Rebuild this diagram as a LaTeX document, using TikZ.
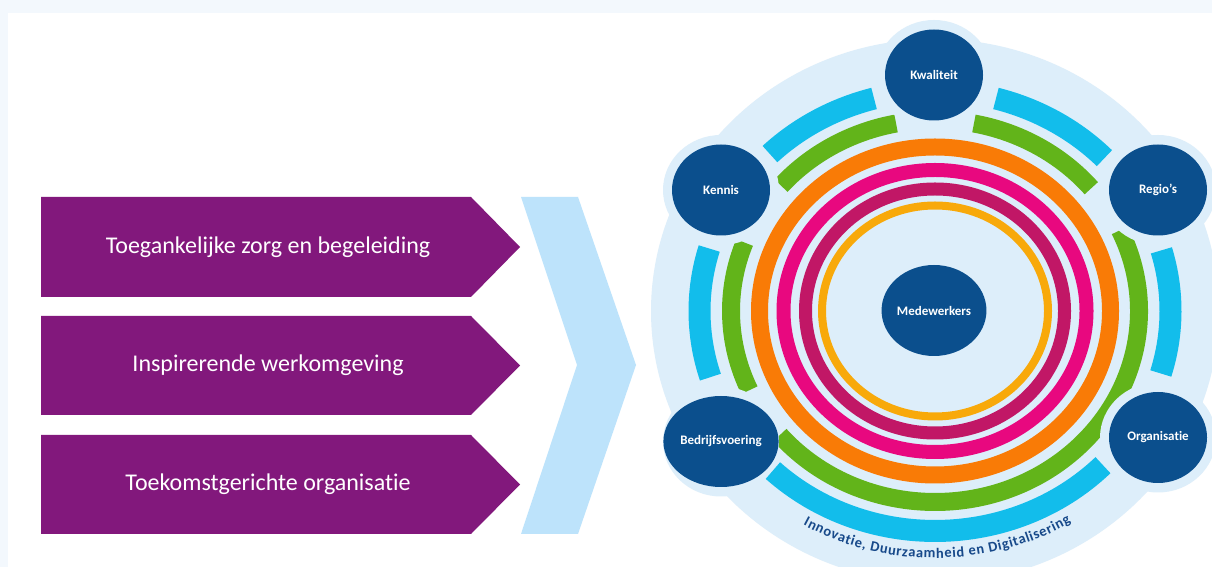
\documentclass[tikz,border=0pt]{standalone}
\usepackage{fontspec}
\setmainfont{Carlito}[Ligatures={NoCommon}]
\usepackage{xcolor}
\usepackage{tikz}
\usetikzlibrary{shapes.geometric, decorations.text}

\definecolor{framebg}{HTML}{F3F8FD}
\definecolor{purp}{HTML}{82187C}
\definecolor{chevblue}{HTML}{BDE3FB}
\definecolor{discblue}{HTML}{DDEEFA}
\definecolor{navy}{HTML}{0B4F8D}
\definecolor{textblue}{HTML}{17498A}
\definecolor{cyanring}{HTML}{12BDEB}
\definecolor{greenring}{HTML}{62B41A}
\definecolor{orangering}{HTML}{F97B06}
\definecolor{pinkring}{HTML}{E8087F}
\definecolor{plumring}{HTML}{C11766}
\definecolor{yellowring}{HTML}{F8A90A}

\tikzstyle{goal} = [fill=purp]
\tikzstyle{goaltext} = [text=white, font=\fontsize{24}{28}\selectfont]
\tikzstyle{theme} = [ellipse, fill=navy, text=white, inner sep=0pt, minimum width=98pt, minimum height=91pt, font=\bfseries\fontsize{13}{15}\selectfont]
\tikzstyle{halo} = [fill=discblue]
\newcommand{\arcfont}{\bfseries\fontsize{14.5}{15}\selectfont\color{textblue}}

\begin{document}
\begin{tikzpicture}[x=1pt, y=1pt]
    % Canvas
    \clip (0,0) rectangle (1212,567);
    \fill[white] (0,0) rectangle (1212,567);
    \fill[framebg] (0,554) rectangle (1212,567);
    \fill[framebg] (0,0) rectangle (8,567);

    % Goals
    \fill[goal] (41,370) -- (471,370) -- (520,320) -- (471,270) -- (41,270) -- cycle;
    \node[goaltext] (zorg) at (268,320) {Toegankelijke zorg en begeleiding};
    \fill[goal] (41,251) -- (471,251) -- (520,201.5) -- (471,152) -- (41,152) -- cycle;
    \node[goaltext] (werk) at (268,201.5) {Inspirerende werkomgeving};
    \fill[goal] (41,132) -- (471,132) -- (520,82.5) -- (471,33) -- (41,33) -- cycle;
    \node[goaltext] (toekomst) at (268,82.5) {Toekomstgerichte organisatie};

    % Chevron
    \fill[chevblue] (521,370) -- (578,370) -- (636,202) -- (578,33) -- (521,33) -- (577,202) -- cycle;

    % Node positions
    \coordinate (kw) at (934,492);
    \coordinate (ke) at (721,377);
    \coordinate (re) at (1158,377);
    \coordinate (be) at (721,125.5);
    \coordinate (or) at (1158,129.5);

    % Rings
    \begin{scope}[shift={(935,256)}]
        \fill[discblue] (0,0) ellipse [x radius=284, y radius=272];
        \draw[yellowring, line width=8pt] (0,0) ellipse [x radius=113, y radius=105.5];
        \draw[plumring, line width=13pt] (0,0) ellipse [x radius=129.5, y radius=122];
        \draw[pinkring, line width=14pt] (0,0) ellipse [x radius=151.5, y radius=141];
        \draw[orangering, line width=17pt] (0,0) ellipse [x radius=175.5, y radius=164];
        \foreach \a/\b in {105/134.5, 44/75, 163.5/197.5, -16.5/16, 226.5/315.5}
            \draw[cyanring, line width=22pt] (\a:235.5 and 220) arc[start angle=\a, end angle=\b, x radius=235.5, y radius=220];
        \foreach \a/\b in {101/139, 40/79, 159/204.5, 220.5/385}
            \draw[greenring, line width=18pt] (\a:204 and 191) arc[start angle=\a, end angle=\b, x radius=204, y radius=191];
        \path[decorate, decoration={text along path, text align=fit to path,
            text={|\arcfont|Innovatie, Duurzaamheid en Digitalisering}}]
            (240:264 and 247) arc[start angle=240, end angle=301, x radius=264, y radius=247];
    \end{scope}

    % Halos
    \foreach \p in {kw, ke, re, be, or}
        \fill[halo] (\p) ellipse [x radius=58, y radius=55];

    % Themes
    \node[theme] (kwaliteit) at (kw) {Kwaliteit};
    \node[theme] (kennis) at (ke) {Kennis};
    \node[theme] (regios) at (re) {Regio's};
    \node[theme] (bedrijfsvoering) at (be) {Bedrijfsvoering};
    \node[theme] (organisatie) at (or) {Organisatie};
    \node[theme] (medewerkers) at (934,256.5) {Medewerkers};
\end{tikzpicture}
\end{document}
